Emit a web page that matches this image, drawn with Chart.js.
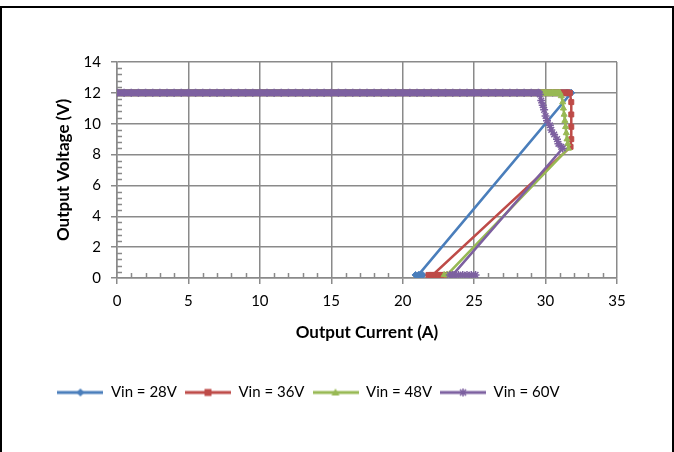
<!DOCTYPE html>
<html><head><meta charset="utf-8">
<script src="https://cdn.jsdelivr.net/npm/chart.js@4.4.0/dist/chart.umd.min.js"></script>
<style>
html,body{margin:0;padding:0;background:#fff;}
#wrap{position:relative;width:674px;height:452px;overflow:hidden;}
#frame{position:absolute;left:0;top:6px;width:670px;height:460px;border:2px solid #000;pointer-events:none;}
canvas{position:absolute;left:0;top:0;}
</style></head><body>
<div id="wrap"><canvas id="c" width="674" height="452"></canvas><div id="frame"></div></div>
<script>
// ---- data ----
const seriesNames = ['Vin = 28V', 'Vin = 36V', 'Vin = 48V', 'Vin = 60V'];
const seriesColors = ['#4A7EBB', '#BE4B48', '#98B954', '#7D60A0'];
const seriesMarkers = ['rectRot', 'rect', 'triangle', 'star'];

// load sweep (A) while output is regulated at 12 V
const plateauCurrent = [0,0.5,1,1.5,2,2.5,3,3.5,4,4.5,5,5.5,6,6.5,7,7.5,8,8.5,9,9.5,10,10.5,11,11.5,12,12.5,13,13.5,14,14.5,15,15.5,16,16.5,17,17.5,18,18.5,19,19.5,20,20.5,21,21.5,22,22.5,23,23.5,24,24.5,25,25.5,26,26.5,27,27.5,28,28.5,29,29.5,30,30.5,31,31.5];
const plateauVoltage = 12;
const plateauEnd = [31.5, 31.5, 31.0, 29.5];

// current-limit / fold-back tails
const tail28I = [31.8, 21.1, 20.9, 21.2, 21.4];
const tail28V = [12.0, 0.2, 0.2, 0.2, 0.2];
const tail36I = [31.7, 31.8, 31.8, 31.8, 31.8, 31.75, 22.1, 21.8, 22.0, 22.3, 22.5, 22.7, 22.9];
const tail36V = [12.0, 11.4, 10.6, 9.8, 9.0, 8.5, 0.2, 0.2, 0.2, 0.2, 0.2, 0.2, 0.2];
const tail48I = [31.1, 31.2, 31.25, 31.3, 31.35, 31.4, 31.45, 31.5, 31.55, 31.6, 23.1, 22.9, 23.1, 23.3];
const tail48V = [11.8, 11.4, 11.0, 10.6, 10.2, 9.8, 9.4, 9.0, 8.7, 8.4, 0.2, 0.2, 0.2, 0.2];
const tail60I = [29.6, 29.7, 29.8, 29.9, 30.0, 30.1, 30.3, 30.4, 30.6, 30.8, 30.9, 31.1, 31.2, 23.5, 23.3, 23.6, 23.9, 24.2, 24.5, 24.8, 25.1];
const tail60V = [11.9, 11.5, 11.2, 10.9, 10.5, 10.2, 9.9, 9.6, 9.3, 9.0, 8.7, 8.5, 8.4, 0.2, 0.2, 0.2, 0.2, 0.2, 0.2, 0.2, 0.2];

const tailsI = [tail28I, tail36I, tail48I, tail60I];
const tailsV = [tail28V, tail36V, tail48V, tail60V];

const xMin = 0, xMax = 35, xStep = 5, xMinor = 1;
const yMin = 0, yMax = 14, yStep = 2, yMinor = 0.4;
const xTitle = 'Output Current (A)';
const yTitle = 'Output Voltage (V)';

// ---- build ----
function buildSeries(k) {
  const pts = plateauCurrent.filter(i => i <= plateauEnd[k]).map(i => ({x: i, y: plateauVoltage}));
  tailsI[k].forEach((v, j) => pts.push({x: v, y: tailsV[k][j]}));
  return pts;
}

const gridColor = '#8a8a8a';
const FONT = 'Lato, "Open Sans", sans-serif';

function legendImage(color, style) {
  const c = document.createElement('canvas');
  c.width = 46; c.height = 12;
  const g = c.getContext('2d');
  g.strokeStyle = color; g.fillStyle = color; g.lineWidth = 3;
  g.beginPath(); g.moveTo(0, 6); g.lineTo(46, 6); g.stroke();
  g.lineWidth = 1;
  const cx = 23, cy = 6, r = 4;
  g.beginPath();
  if (style === 'rectRot') { g.moveTo(cx, cy - r); g.lineTo(cx + r, cy); g.lineTo(cx, cy + r); g.lineTo(cx - r, cy); g.closePath(); g.fill(); }
  else if (style === 'rect') { g.rect(cx - 3.5, cy - 3.5, 7, 7); g.fill(); }
  else if (style === 'triangle') { g.moveTo(cx, cy - r); g.lineTo(cx + r, cy + 3); g.lineTo(cx - r, cy + 3); g.closePath(); g.fill(); }
  else { g.lineWidth = 1.5; g.moveTo(cx - 3, cy - 3); g.lineTo(cx + 3, cy + 3); g.moveTo(cx + 3, cy - 3); g.lineTo(cx - 3, cy + 3); g.moveTo(cx, cy - 4); g.lineTo(cx, cy + 4); g.stroke(); }
  return c;
}

const datasets = seriesNames.map((name, k) => ({
  label: name,
  data: buildSeries(k),
  showLine: true,
  borderColor: seriesColors[k],
  backgroundColor: seriesColors[k],
  borderWidth: 2.5,
  pointStyle: seriesMarkers[k],
  pointRadius: k === 3 ? 4 : 3.5,
  pointBorderWidth: k === 3 ? 1.5 : 1,
  pointBackgroundColor: seriesColors[k],
  pointBorderColor: seriesColors[k],
  order: 3 - k,
  segment: {
    borderWidth: ctx => (ctx.p0.parsed.y >= 11.9 && ctx.p1.parsed.y >= 11.9) ? 7 : 2.5
  }
}));

const minorTicks = {
  id: 'minorTicks',
  beforeDatasetsDraw(chart) {
    const {ctx, scales: {x, y}, chartArea: a} = chart;
    ctx.save();
    ctx.strokeStyle = gridColor; ctx.lineWidth = 1.5;
    ctx.beginPath();
    for (let v = xMin + xMinor; v < xMax; v += xMinor) {
      if (Math.abs(v / xStep - Math.round(v / xStep)) < 1e-6) continue;
      const px = Math.round(x.getPixelForValue(v)) + 0.5;
      ctx.moveTo(px, a.bottom - 5); ctx.lineTo(px, a.bottom);
    }
    for (let i = 1; yMin + i * yMinor < yMax - 1e-6; i++) {
      const v = yMin + i * yMinor;
      if (Math.abs(v / yStep - Math.round(v / yStep)) < 1e-6) continue;
      const py = Math.round(y.getPixelForValue(v)) + 0.5;
      ctx.moveTo(a.left, py); ctx.lineTo(a.left + 5, py);
    }
    ctx.stroke();
    ctx.restore();
  }
};

new Chart(document.getElementById('c'), {
  type: 'scatter',
  data: {datasets},
  plugins: [minorTicks],
  options: {
    responsive: false,
    animation: false,
    layout: {padding: {left: 0, top: 62, right: 57, bottom: 42}},
    plugins: {
      tooltip: {enabled: false},
      legend: {
        position: 'bottom',
        labels: {
          usePointStyle: true,
          pointStyleWidth: 46,
          padding: 8,
          color: '#000',
          font: {family: FONT, size: 15},
          generateLabels: (chart) => chart.data.datasets.map((d, i) => ({
            text: d.label,
            pointStyle: legendImage(seriesColors[i], seriesMarkers[i]),
            fillStyle: seriesColors[i], strokeStyle: seriesColors[i],
            lineWidth: 0, hidden: false, datasetIndex: i, fontColor: '#000'
          }))
        }
      }
    },
    scales: {
      x: {
        type: 'linear', min: xMin, max: xMax,
        afterFit: s => { s.height = 99; },
        ticks: {stepSize: xStep, color: '#000', padding: 8, font: {family: FONT, size: 15}, maxRotation: 0},
        grid: {color: gridColor, lineWidth: 1.5, tickLength: 6, tickColor: gridColor},
        border: {color: gridColor, width: 1.5},
        title: {display: true, text: xTitle, color: '#000', font: {family: FONT, size: 17, weight: 'bold'}, padding: {top: 0, bottom: 34}}
      },
      y: {
        type: 'linear', min: yMin, max: yMax,
        afterFit: s => { s.width = 117; },
        ticks: {stepSize: yStep, color: '#000', padding: 10, font: {family: FONT, size: 15}},
        grid: {color: gridColor, lineWidth: 1.5, tickLength: 6, tickColor: gridColor},
        border: {color: gridColor, width: 1.5},
        title: {display: true, text: yTitle, color: '#000', font: {family: FONT, size: 17, weight: 'bold'}, padding: {top: 53, bottom: 0}}
      }
    }
  }
});
</script>
</body></html>
